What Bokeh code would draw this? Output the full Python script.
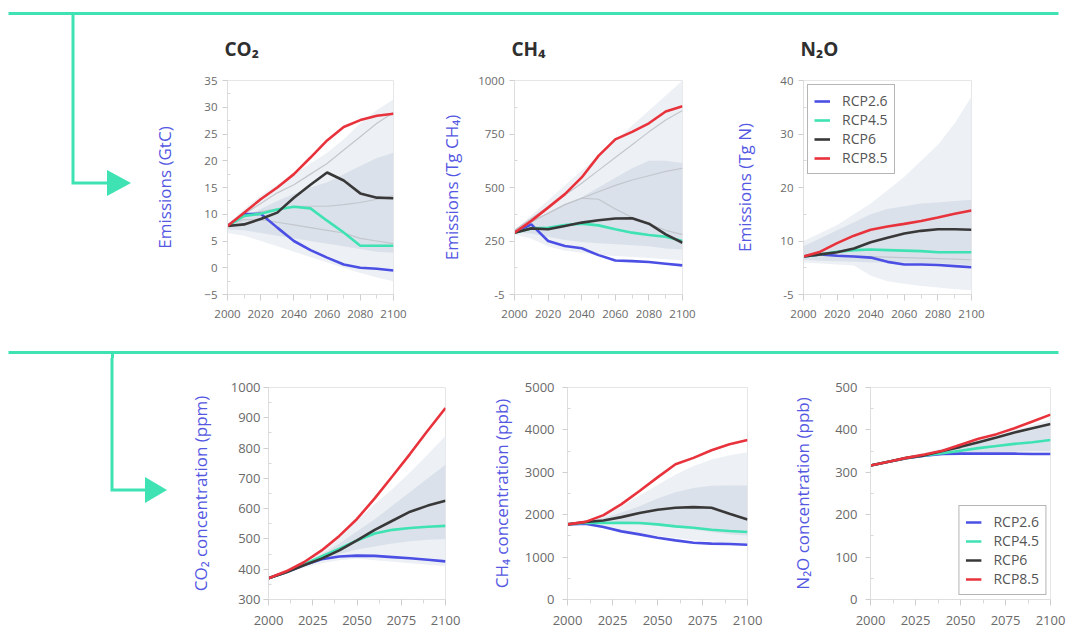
from bokeh.plotting import figure
from bokeh.layouts import column, row
from bokeh.models import Range1d, FixedTicker, Legend, LegendItem, Div
from bokeh.embed import file_html
from bokeh.resources import INLINE

# ---------------- data ----------------
years = [2000, 2010, 2020, 2030, 2040, 2050, 2060, 2070, 2080, 2090, 2100]
scenarios = ["RCP2.6", "RCP4.5", "RCP6", "RCP8.5"]

# CO2 emissions (GtC)
co2e_26 = [7.8, 10.0, 10.1, 7.5, 5.0, 3.3, 1.9, 0.6, 0.0, -0.2, -0.5]
co2e_45 = [7.8, 9.7, 10.1, 10.9, 11.4, 11.1, 8.8, 6.6, 4.1, 4.1, 4.1]
co2e_6 = [7.8, 8.1, 9.1, 10.3, 13.1, 15.5, 17.8, 16.3, 13.9, 13.1, 13.0]
co2e_85 = [7.8, 10.3, 12.8, 15.0, 17.5, 20.6, 23.8, 26.3, 27.6, 28.4, 28.8]
co2e_out_hi = [8.2, 11.0, 13.5, 15.5, 17.5, 19.5, 21.5, 24.0, 27.0, 29.5, 31.5]
co2e_out_lo = [6.5, 6.0, 5.0, 4.0, 3.0, 2.0, 1.0, 0.0, -1.0, -1.8, -2.5]
co2e_in_hi = [8.0, 9.5, 11.0, 12.5, 13.8, 15.0, 16.0, 17.5, 19.0, 20.5, 21.5]
co2e_in_lo = [7.2, 7.0, 6.5, 6.0, 5.5, 5.0, 4.5, 4.0, 3.5, 3.0, 2.8]
co2e_g1 = [8.0, 10.0, 12.0, 14.0, 15.5, 17.5, 19.5, 22.0, 24.5, 27.0, 29.0]
co2e_g2 = [8.0, 9.5, 10.5, 11.0, 11.5, 11.5, 11.5, 11.8, 12.2, 12.8, 13.5]
co2e_g3 = [8.0, 9.0, 9.0, 8.5, 8.0, 7.5, 7.0, 6.5, 5.5, 5.0, 4.5]

# CH4 emissions (Tg CH4)
ch4e_26 = [289, 328, 250, 227, 216, 184, 159, 156, 152, 144, 136]
ch4e_45 = [289, 309, 312, 325, 331, 323, 305, 289, 278, 270, 250]
ch4e_6 = [289, 309, 305, 320, 336, 347, 355, 356, 331, 281, 242]
ch4e_85 = [289, 344, 406, 469, 547, 648, 725, 760, 800, 855, 880]
ch4e_out_hi = [300, 370, 440, 510, 580, 650, 720, 790, 860, 930, 1000]
ch4e_out_lo = [280, 260, 225, 205, 195, 185, 180, 175, 170, 165, 160]
ch4e_in_hi = [300, 340, 380, 420, 455, 500, 545, 590, 625, 625, 615]
ch4e_in_lo = [290, 285, 270, 255, 245, 240, 235, 230, 225, 215, 210]
ch4e_g1 = [300, 355, 410, 465, 520, 580, 640, 700, 760, 815, 860]
ch4e_g2 = [300, 340, 380, 420, 450, 480, 510, 535, 555, 575, 590]
ch4e_g3 = [300, 340, 380, 420, 450, 445, 400, 360, 330, 300, 280]

# N2O emissions (Tg N)
n2oe_26 = [7.1, 7.5, 7.25, 7.1, 6.9, 6.1, 5.6, 5.6, 5.5, 5.3, 5.1]
n2oe_45 = [7.1, 7.5, 8.0, 8.3, 8.4, 8.3, 8.2, 8.1, 7.9, 7.9, 7.9]
n2oe_6 = [7.1, 7.5, 7.9, 8.6, 9.75, 10.6, 11.4, 11.9, 12.2, 12.2, 12.1]
n2oe_85 = [7.1, 8.0, 9.6, 11.0, 12.1, 12.7, 13.2, 13.75, 14.4, 15.1, 15.7]
n2oe_out_hi = [10.0, 11.5, 13.0, 15.0, 17.0, 19.5, 22.0, 25.0, 28.0, 32.0, 37.0]
n2oe_out_lo = [6.0, 5.8, 5.6, 5.4, 3.5, 2.5, 2.0, 1.6, 1.3, 1.0, 0.8]
n2oe_in_hi = [9.0, 10.5, 12.0, 13.5, 15.0, 16.0, 16.5, 17.0, 17.2, 17.5, 17.7]
n2oe_in_lo = [6.5, 6.3, 6.2, 6.1, 6.0, 6.0, 6.0, 5.9, 5.8, 5.7, 5.5]
n2oe_g1 = [7.1, 7.3, 7.3, 7.2, 7.1, 7.0, 6.9, 6.8, 6.7, 6.6, 6.5]

# CO2 concentration (ppm)
co2c_26 = [370, 390, 414, 433, 442, 445, 444, 440, 436, 431, 426]
co2c_45 = [370, 390, 416, 442, 468, 495, 518, 530, 536, 540, 543]
co2c_6 = [370, 390, 413, 435, 462, 495, 530, 560, 590, 610, 626]
co2c_85 = [370, 393, 423, 462, 510, 566, 634, 707, 781, 858, 932]
co2c_out_hi = [372, 395, 425, 465, 510, 560, 615, 665, 720, 780, 840]
co2c_out_lo = [368, 385, 405, 420, 430, 435, 430, 425, 420, 415, 410]
co2c_in_hi = [372, 392, 418, 450, 485, 525, 565, 610, 655, 700, 745]
co2c_in_lo = [368, 388, 410, 430, 450, 465, 475, 485, 492, 497, 500]

# CH4 concentration (ppb)
ch4c_26 = [1771, 1787, 1708, 1607, 1536, 1458, 1395, 1340, 1317, 1309, 1293]
ch4c_45 = [1771, 1810, 1803, 1810, 1803, 1771, 1724, 1693, 1646, 1614, 1591]
ch4c_6 = [1771, 1826, 1865, 1943, 2038, 2116, 2163, 2179, 2163, 2022, 1889]
ch4c_85 = [1771, 1830, 1990, 2250, 2560, 2880, 3190, 3340, 3520, 3660, 3760]
ch4c_out_hi = [1780, 1850, 1980, 2200, 2450, 2700, 2950, 3150, 3300, 3400, 3470]
ch4c_out_lo = [1760, 1760, 1700, 1620, 1560, 1500, 1450, 1400, 1370, 1340, 1320]
ch4c_in_hi = [1775, 1840, 1920, 2050, 2200, 2380, 2530, 2630, 2680, 2690, 2690]
ch4c_in_lo = [1765, 1790, 1800, 1790, 1770, 1740, 1700, 1650, 1590, 1540, 1510]

# N2O concentration (ppb)
n2oc_26 = [316, 325, 333, 339, 343, 344, 344, 344, 344, 343, 343]
n2oc_45 = [316, 325, 333, 340, 345, 351, 357, 362, 367, 371, 376]
n2oc_6 = [316, 325, 334, 340, 350, 360, 371, 382, 394, 404, 414]
n2oc_85 = [316, 325, 334, 342, 351, 365, 379, 390, 404, 420, 436]
n2oc_out_hi = [317, 327, 337, 346, 356, 366, 377, 388, 400, 412, 425]
n2oc_out_lo = [315, 324, 332, 337, 340, 342, 343, 344, 344, 345, 345]
n2oc_in_hi = [316, 325, 334, 342, 350, 360, 370, 380, 390, 400, 412]
n2oc_in_lo = [316, 325, 333, 338, 342, 345, 347, 348, 349, 350, 350]

# ---------------- style ----------------
FONT = "Open Sans"
GREEN = "#3fe3b3"
LINE_COLORS = ["#4b4fe3", "#3fe2b2", "#383838", "#e8333d"]
OUTER = "#edf1f5"
INNER = "#d6dee7"
GRAYLINE = "#c3c7cd"
YLABEL = "#5457e2"
TICKTXT = "#6a6a6a"
AXIS = "#dedede"


def strip(width, height):
    p = figure(width=width, height=height, x_range=Range1d(0, width),
               y_range=Range1d(height, 0), x_axis_type=None, y_axis_type=None,
               toolbar_location=None, output_backend="svg",
               min_border_left=0, min_border_right=0, min_border_top=0,
               min_border_bottom=0, outline_line_color=None)
    p.grid.visible = False
    return p


def arrow_div(width, height, xv, ybend, xarrow, tip):
    svg = (
        f'<svg width="{width}" height="{height}" style="display:block" '
        f'xmlns="http://www.w3.org/2000/svg">'
        f'<polyline points="{xv},0 {xv},{ybend} {xarrow + 1},{ybend}" fill="none" '
        f'stroke="{GREEN}" stroke-width="3"/>'
        f'<polygon points="{xarrow},{ybend - 13} {xarrow},{ybend + 13} '
        f'{xarrow + tip},{ybend}" fill="{GREEN}"/></svg>'
    )
    return Div(text=svg, width=width, height=height, margin=0)


def panel(width, height, left, right, top, bottom, yr, yticks, yminor,
          ylabel, lab_standoff, xticks, xminor, title=None, overrides=None,
          tick_font="11.5px", label_font="17px", ystand=5, xstand=9):
    p = figure(width=width, height=height, x_range=Range1d(2000, 2100),
               y_range=Range1d(*yr), toolbar_location=None,
               output_backend="svg", min_border_left=left,
               min_border_right=right, min_border_top=top,
               min_border_bottom=bottom)
    p.grid.visible = False
    p.outline_line_color = "#e6e6e6"
    if title:
        p.title.text = title
        p.title.text_font = FONT
        p.title.text_font_size = "19px"
        p.title.text_font_style = "bold"
        p.title.text_color = "#2f2f2f"
        p.title.align = "left"
        p.title.offset = -3
        p.title.standoff = 37
    p.xaxis.ticker = FixedTicker(ticks=xticks, minor_ticks=xminor)
    p.yaxis.ticker = FixedTicker(ticks=yticks, minor_ticks=yminor)
    if overrides:
        p.yaxis.major_label_overrides = overrides
    for ax in (p.xaxis, p.yaxis):
        ax.axis_line_color = AXIS
        ax.major_tick_line_color = "#cfcfcf"
        ax.minor_tick_line_color = "#d8d8d8"
        ax.major_label_text_font = FONT
        ax.major_label_text_font_size = tick_font
        ax.major_label_text_color = TICKTXT
    p.xaxis.major_tick_out = 6
    p.xaxis.major_tick_in = 0
    p.xaxis.minor_tick_out = 4
    p.xaxis.minor_tick_in = 0
    p.xaxis.major_label_standoff = xstand
    p.yaxis.major_tick_out = 5
    p.yaxis.major_tick_in = 0
    p.yaxis.minor_tick_out = 0
    p.yaxis.minor_tick_in = 3
    p.yaxis.major_label_standoff = ystand
    p.yaxis.axis_label = ylabel
    p.yaxis.axis_label_text_font = FONT
    p.yaxis.axis_label_text_font_size = label_font
    p.yaxis.axis_label_text_font_style = "normal"
    p.yaxis.axis_label_text_color = YLABEL
    p.yaxis.axis_label_standoff = lab_standoff
    return p


def draw(p, series, out_hi, out_lo, in_hi, in_lo, grays=(), legend_loc=None):
    p.varea(x=years, y1=out_lo, y2=out_hi, fill_color=OUTER)
    p.varea(x=years, y1=in_lo, y2=in_hi, fill_color=INNER, fill_alpha=0.85)
    for g in grays:
        p.line(years, g, line_color=GRAYLINE, line_width=1.2)
    rs = []
    for vals, col in zip(series, LINE_COLORS):
        rs.append(p.line(years, vals, line_color=col, line_width=2.6))
    if legend_loc:
        items = [LegendItem(label=s, renderers=[r]) for s, r in zip(scenarios, rs)]
        lg = Legend(items=items, location=legend_loc)
        lg.border_line_color = "#6b6b6b"
        lg.border_line_width = 1.5
        lg.label_text_font = FONT
        lg.label_text_font_size = "14px"
        lg.label_text_color = "#555555"
        lg.glyph_width = 16
        lg.glyph_height = 18
        lg.label_height = 18
        lg.label_standoff = 12
        lg.spacing = 0
        lg.padding = 6
        lg.margin = 4
        p.add_layout(lg)


W = 1067

# ---------------- top strip ----------------
strip1 = strip(W, 15)
strip1.line([8, 1058], [13, 13], line_color=GREEN, line_width=3)
strip1.line([73, 73], [13, 15], line_color=GREEN, line_width=3)

# ---------------- top row ----------------
d1 = arrow_div(150, 330, 73, 168, 107, 24)

top_x = [2000, 2020, 2040, 2060, 2080, 2100]
top_xm = [2010, 2030, 2050, 2070, 2090]

p1 = panel(280, 330, 76, 37, 65, 51, (-5, 35), list(range(-5, 36, 5)),
           [v + 2.5 for v in range(-5, 35, 5)], "Emissions (GtC)", 25,
           top_x, top_xm, title="CO₂")
draw(p1, [co2e_26, co2e_45, co2e_6, co2e_85], co2e_out_hi, co2e_out_lo,
     co2e_in_hi, co2e_in_lo, grays=[co2e_g1, co2e_g2, co2e_g3])

p2 = panel(290, 330, 84, 38, 65, 51, (0, 1000), [0, 250, 500, 750, 1000],
           [125, 375, 625, 875], "Emissions (Tg CH₄)", 12, top_x, top_xm,
           title="CH₄", overrides={0: "-5"})
draw(p2, [ch4e_26, ch4e_45, ch4e_6, ch4e_85], ch4e_out_hi, ch4e_out_lo,
     ch4e_in_hi, ch4e_in_lo, grays=[ch4e_g1, ch4e_g2, ch4e_g3])

p3 = panel(347, 330, 83, 96, 65, 51, (0, 40), [0, 10, 20, 30, 40],
           [5, 15, 25, 35], "Emissions (Tg N)", 21, top_x, top_xm,
           title="N₂O", overrides={0: "-5"})
draw(p3, [n2oe_26, n2oe_45, n2oe_6, n2oe_85], n2oe_out_hi, n2oe_out_lo,
     n2oe_in_hi, n2oe_in_lo, grays=[n2oe_g1], legend_loc="top_left")

# ---------------- middle strip ----------------
strip2 = strip(W, 13)
strip2.line([8, 1058], [7, 7], line_color=GREEN, line_width=3)
strip2.line([112, 112], [7, 13], line_color=GREEN, line_width=3)

# ---------------- bottom row ----------------
d2 = arrow_div(185, 270, 112, 132, 145, 22)

bot_x = [2000, 2025, 2050, 2075, 2100]
bot_xm = [2012.5, 2037.5, 2062.5, 2087.5]

p4 = panel(295, 270, 80, 35, 29, 29, (300, 1000), list(range(300, 1001, 100)),
           list(range(350, 1000, 100)), "CO₂ concentration (ppm)", 16,
           bot_x, bot_xm, tick_font="13px", ystand=3, xstand=10)
draw(p4, [co2c_26, co2c_45, co2c_6, co2c_85], co2c_out_hi, co2c_out_lo,
     co2c_in_hi, co2c_in_lo)

p5 = panel(305, 270, 87, 38, 29, 29, (0, 5000), list(range(0, 5001, 1000)),
           list(range(500, 5000, 1000)), "CH₄ concentration (ppb)", 9,
           bot_x, bot_xm, tick_font="13px", ystand=8, xstand=10)
draw(p5, [ch4c_26, ch4c_45, ch4c_6, ch4c_85], ch4c_out_hi, ch4c_out_lo,
     ch4c_in_hi, ch4c_in_lo)

p6 = panel(282, 270, 85, 17, 29, 29, (0, 500), list(range(0, 501, 100)),
           list(range(50, 500, 100)), "N₂O concentration (ppb)", 18,
           bot_x, bot_xm, tick_font="13px", ystand=8, xstand=10)
draw(p6, [n2oc_26, n2oc_45, n2oc_6, n2oc_85], n2oc_out_hi, n2oc_out_lo,
     n2oc_in_hi, n2oc_in_lo, legend_loc="bottom_right")

layout = column(strip1, row(d1, p1, p2, p3), strip2, row(d2, p4, p5, p6))

open("out.html", "w").write(file_html(layout, INLINE))
